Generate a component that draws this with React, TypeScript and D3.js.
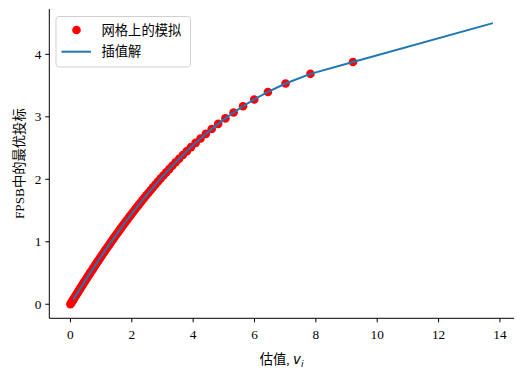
import React from "react";
import * as d3 from "d3";

// Grid valuations (x) and simulated optimal bids (y)
const gridValues = [
  0, 0.0201, 0.0404, 0.0609, 0.0816, 0.1026, 0.1238, 0.1451, 0.1668, 0.1886,
  0.2107, 0.2331, 0.2557, 0.2785, 0.3016, 0.325, 0.3487, 0.3727, 0.3969, 0.4214,
  0.4463, 0.4714, 0.4969, 0.5227, 0.5489, 0.5754, 0.6022, 0.6294, 0.657, 0.685,
  0.7133, 0.7421, 0.7713, 0.801, 0.831, 0.8616, 0.8926, 0.9241, 0.9561, 0.9886,
  1.0217, 1.0553, 1.0895, 1.1242, 1.1596, 1.1957, 1.2324, 1.2698, 1.3079, 1.3467,
  1.3863, 1.4267, 1.4679, 1.51, 1.5531, 1.597, 1.642, 1.6879, 1.735, 1.7832,
  1.8326, 1.8832, 1.9352, 1.9885, 2.0433, 2.0996, 2.1576, 2.2173, 2.2789, 2.3424,
  2.4079, 2.4757, 2.5459, 2.6187, 2.6941, 2.7726, 2.8542, 2.9394, 3.0283, 3.1213,
  3.2189, 3.3215, 3.4296, 3.5439, 3.6652, 3.7942, 3.9322, 4.0804, 4.2405, 4.4146,
  4.6052, 4.8159, 5.0515, 5.3185, 5.6268, 5.9915, 6.4378, 7.0131, 7.824, 9.2103,
];
const gridBids = [
  0, 0.0161, 0.0323, 0.0486, 0.0651, 0.0817, 0.0985, 0.1154, 0.1325, 0.1497,
  0.1671, 0.1846, 0.2023, 0.2202, 0.2382, 0.2564, 0.2748, 0.2934, 0.3121, 0.3311,
  0.3502, 0.3695, 0.389, 0.4087, 0.4287, 0.4488, 0.4692, 0.4897, 0.5106, 0.5316,
  0.5529, 0.5744, 0.5962, 0.6183, 0.6405, 0.663, 0.6859, 0.709, 0.7323, 0.7561,
  0.78, 0.8044, 0.829, 0.854, 0.8793, 0.905, 0.931, 0.9574, 0.9842, 1.0114,
  1.0389, 1.0669, 1.0954, 1.1243, 1.1536, 1.1834, 1.2138, 1.2446, 1.276, 1.3079,
  1.3404, 1.3736, 1.4073, 1.4417, 1.4767, 1.5125, 1.549, 1.5863, 1.6244, 1.6633,
  1.7031, 1.7439, 1.7856, 1.8284, 1.8722, 1.9172, 1.9635, 2.011, 2.06, 2.1104,
  2.1624, 2.2161, 2.2716, 2.3291, 2.3887, 2.4507, 2.5153, 2.5826, 2.6531, 2.7271,
  2.805, 2.8873, 2.9748, 3.0682, 3.1688, 3.278, 3.3982, 3.5328, 3.688, 3.8771,
];
// Interpolated solution: start and (extrapolated) end points of the curve
const lineEndValues = [0.09, 13.77];
const lineEndBids = [0.072, 4.499];

const xTicks = [0, 2, 4, 6, 8, 10, 12, 14];
const yTicks = [0, 1, 2, 3, 4];

const legendLabels = ["网格上的模拟", "插值解"];
const xLabel = "估值, ";
const yLabel = "FPSB中的最优投标";

const W = 524;
const H = 378;
const FONT = "'Liberation Serif', 'Noto Sans CJK SC', serif";
const FS = 13.3;

export default function App() {
  const x = d3.scaleLinear().domain([-0.6885, 14.4585]).range([49.3, 514]);
  const y = d3.scaleLinear().domain([-0.225, 4.724]).range([318.3, 9.1]);

  const points = gridValues.map((v, i) => [v, gridBids[i]] as [number, number]);
  const lineData: [number, number][] = [
    [lineEndValues[0], lineEndBids[0]],
    ...points.filter((p) => p[0] > lineEndValues[0]),
    [lineEndValues[1], lineEndBids[1]],
  ];
  const line = d3
    .line<[number, number]>()
    .x((d) => x(d[0]))
    .y((d) => y(d[1]));

  const left = 49.3;
  const bottom = 318.3;
  const top = 9.1;
  const right = 514;

  return (
    <svg
      width={W}
      height={H}
      style={{ position: "absolute", left: 0, top: 0, background: "#fff" }}
      fontFamily={FONT}
    >
      <rect x={0} y={0} width={W} height={H} fill="#fff" />
      {/* points */}
      <g>
        {points.map((p, i) => (
          <circle key={i} cx={x(p[0])} cy={y(p[1])} r={4.3} fill="#ff0000" />
        ))}
      </g>
      {/* interpolated line */}
      <path d={line(lineData) || ""} fill="none" stroke="#1f77b4" strokeWidth={2} />

      {/* spines */}
      <line x1={left} x2={left} y1={top} y2={bottom} stroke="#000" strokeWidth={1} />
      <line x1={left} x2={right} y1={bottom} y2={bottom} stroke="#000" strokeWidth={1} />

      {/* x ticks */}
      {xTicks.map((t) => (
        <g key={"x" + t}>
          <line x1={x(t)} x2={x(t)} y1={bottom} y2={bottom + 4} stroke="#000" strokeWidth={1} />
          <text x={x(t)} y={bottom + 21} textAnchor="middle" fontSize={FS} fill="#000">
            {t}
          </text>
        </g>
      ))}
      {/* y ticks */}
      {yTicks.map((t) => (
        <g key={"y" + t}>
          <line x1={left - 4} x2={left} y1={y(t)} y2={y(t)} stroke="#000" strokeWidth={1} />
          <text
            x={left - 8}
            y={y(t)}
            textAnchor="end"
            dominantBaseline="central"
            fontSize={FS}
            fill="#000"
          >
            {t}
          </text>
        </g>
      ))}

      {/* axis labels */}
      <text x={(left + right) / 2} y={364} textAnchor="middle" fontSize={FS} fill="#000">
        {xLabel}
        <tspan fontFamily="'DejaVu Sans', sans-serif" fontStyle="italic">v</tspan>
        <tspan fontFamily="'DejaVu Sans', sans-serif" fontStyle="italic" fontSize={FS * 0.7} dy={2.5}>
          i
        </tspan>
      </text>
      <text
        transform={`translate(19, ${(top + bottom) / 2}) rotate(-90)`}
        textAnchor="middle"
        dominantBaseline="central"
        fontSize={FS}
        fill="#000"
      >
        {yLabel}
      </text>

      {/* legend */}
      <g>
        <rect
          x={56}
          y={16.5}
          width={134.5}
          height={50.5}
          rx={3}
          fill="#fff"
          fillOpacity={0.8}
          stroke="#d0d0d0"
          strokeWidth={1}
        />
        <circle cx={76.5} cy={30} r={4.3} fill="#ff0000" />
        <text x={101.5} y={30} dominantBaseline="central" fontSize={FS} fill="#000">
          {legendLabels[0]}
        </text>
        <line x1={61.5} x2={91} y1={51.7} y2={51.7} stroke="#1f77b4" strokeWidth={2} />
        <text x={101.5} y={51.7} dominantBaseline="central" fontSize={FS} fill="#000">
          {legendLabels[1]}
        </text>
      </g>
    </svg>
  );
}
